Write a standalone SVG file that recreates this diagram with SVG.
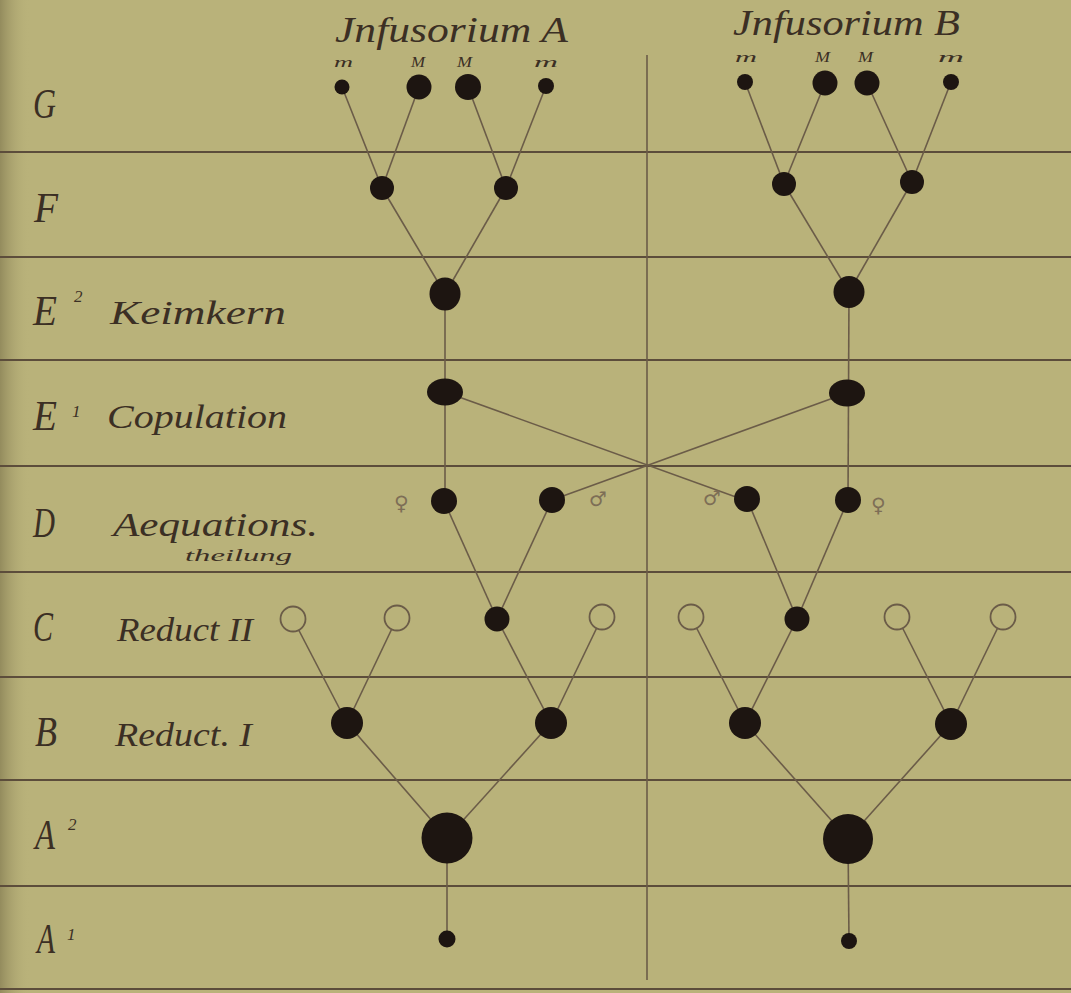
<svg xmlns="http://www.w3.org/2000/svg" width="1071" height="993" viewBox="0 0 1071 993">
<defs>
<linearGradient id="edgeShade" x1="0" y1="0" x2="1" y2="0">
<stop offset="0" stop-color="#8f875a" stop-opacity="0.9"/>
<stop offset="1" stop-color="#b9b27a" stop-opacity="0"/>
</linearGradient>
</defs>
<style>
.rule{stroke:#5c4d3b;stroke-width:2;fill:none}
.vrule{stroke:#6b5c48;stroke-width:1.6;fill:none}
.edge{stroke:#6b5c48;stroke-width:1.6;fill:none}
.n{fill:#1d1511}
.o{fill:#b9b27a;stroke:#6b5c48;stroke-width:1.8}
.lbl{font-family:"Liberation Serif","DejaVu Serif",serif;font-style:italic;fill:#3b2f24}
.big{font-size:42px}
.word{font-size:34px}
.sup{font-size:17px}
.small{font-size:15px}
.sym{font-family:"DejaVu Sans",sans-serif;font-size:20px;fill:#7d6e56}
</style>
<rect width="1071" height="993" fill="#b9b27a"/>
<rect width="30" height="993" fill="url(#edgeShade)"/>

<g id="grid">
<line class="rule" x1="0" y1="152" x2="1071" y2="152"/>
<line class="rule" x1="0" y1="257" x2="1071" y2="257"/>
<line class="rule" x1="0" y1="360" x2="1071" y2="360"/>
<line class="rule" x1="0" y1="466" x2="1071" y2="466"/>
<line class="rule" x1="0" y1="572" x2="1071" y2="572"/>
<line class="rule" x1="0" y1="677" x2="1071" y2="677"/>
<line class="rule" x1="0" y1="780" x2="1071" y2="780"/>
<line class="rule" x1="0" y1="886" x2="1071" y2="886"/>
<line class="rule" x1="0" y1="989" x2="1071" y2="989"/>
<line class="vrule" x1="647" y1="55" x2="647" y2="980"/>
</g>

<g id="row-labels">
<text class="lbl big" x="33" y="118" textLength="23" lengthAdjust="spacingAndGlyphs">G</text>
<text class="lbl big" x="34" y="222" textLength="24" lengthAdjust="spacingAndGlyphs">F</text>
<text class="lbl big" x="33" y="325" textLength="24" lengthAdjust="spacingAndGlyphs">E</text>
<text class="lbl sup" x="74" y="302">2</text>
<text class="lbl word" x="110" y="324" textLength="176" lengthAdjust="spacingAndGlyphs">Keimkern</text>
<text class="lbl big" x="33" y="430" textLength="24" lengthAdjust="spacingAndGlyphs">E</text>
<text class="lbl sup" x="72" y="417">1</text>
<text class="lbl word" x="107" y="428" textLength="180" lengthAdjust="spacingAndGlyphs">Copulation</text>
<text class="lbl big" x="33" y="537" textLength="22" lengthAdjust="spacingAndGlyphs">D</text>
<text class="lbl word" x="113" y="536" textLength="205" lengthAdjust="spacingAndGlyphs">Aequations.</text>
<text class="lbl" x="185" y="561" font-size="16" textLength="107" lengthAdjust="spacingAndGlyphs">theilung</text>
<text class="lbl big" x="33" y="641" textLength="20" lengthAdjust="spacingAndGlyphs">C</text>
<text class="lbl word" x="117" y="641" textLength="136" lengthAdjust="spacingAndGlyphs">Reduct II</text>
<text class="lbl big" x="35" y="746" textLength="22" lengthAdjust="spacingAndGlyphs">B</text>
<text class="lbl word" x="115" y="746" textLength="137" lengthAdjust="spacingAndGlyphs">Reduct. I</text>
<text class="lbl big" x="35" y="849" textLength="20" lengthAdjust="spacingAndGlyphs">A</text>
<text class="lbl sup" x="68" y="830">2</text>
<text class="lbl big" x="37" y="953" textLength="18" lengthAdjust="spacingAndGlyphs">A</text>
<text class="lbl sup" x="67" y="940">1</text>
</g>

<g id="titles">
<text class="lbl" x="335" y="42" font-size="36" textLength="233" lengthAdjust="spacingAndGlyphs">Jnfusorium  A</text>
<text class="lbl" x="733" y="35" font-size="36" textLength="227" lengthAdjust="spacingAndGlyphs">Jnfusorium B</text>
<text class="lbl small" x="334" y="67" textLength="19" lengthAdjust="spacingAndGlyphs">m</text>
<text class="lbl small" x="411" y="67" textLength="14" lengthAdjust="spacingAndGlyphs">M</text>
<text class="lbl small" x="457" y="67" textLength="15" lengthAdjust="spacingAndGlyphs">M</text>
<text class="lbl small" x="534" y="67" textLength="24" lengthAdjust="spacingAndGlyphs">m</text>
<text class="lbl small" x="735" y="62" textLength="22" lengthAdjust="spacingAndGlyphs">m</text>
<text class="lbl small" x="815" y="62" textLength="15" lengthAdjust="spacingAndGlyphs">M</text>
<text class="lbl small" x="858" y="62" textLength="15" lengthAdjust="spacingAndGlyphs">M</text>
<text class="lbl small" x="938" y="62" textLength="26" lengthAdjust="spacingAndGlyphs">m</text>
</g>

<g id="connectors">
<line class="edge" x1="342" y1="87" x2="382" y2="188"/>
<line class="edge" x1="419" y1="87" x2="382" y2="188"/>
<line class="edge" x1="468" y1="87" x2="506" y2="188"/>
<line class="edge" x1="546" y1="86" x2="506" y2="188"/>
<line class="edge" x1="745" y1="82" x2="784" y2="184"/>
<line class="edge" x1="825" y1="83" x2="784" y2="184"/>
<line class="edge" x1="867" y1="83" x2="912" y2="182"/>
<line class="edge" x1="951" y1="82" x2="912" y2="182"/>
<line class="edge" x1="382" y1="188" x2="445" y2="294"/>
<line class="edge" x1="506" y1="188" x2="445" y2="294"/>
<line class="edge" x1="784" y1="184" x2="849" y2="292"/>
<line class="edge" x1="912" y1="182" x2="849" y2="292"/>
<line class="edge" x1="445" y1="294" x2="445" y2="501"/>
<line class="edge" x1="849" y1="292" x2="848" y2="500"/>
<line class="edge" x1="445" y1="392" x2="747" y2="501"/>
<line class="edge" x1="847" y1="393" x2="552" y2="500"/>
<line class="edge" x1="444" y1="501" x2="497" y2="619"/>
<line class="edge" x1="552" y1="500" x2="497" y2="619"/>
<line class="edge" x1="747" y1="499" x2="797" y2="619"/>
<line class="edge" x1="848" y1="500" x2="797" y2="619"/>
<line class="edge" x1="293" y1="619" x2="347" y2="723"/>
<line class="edge" x1="397" y1="618" x2="347" y2="723"/>
<line class="edge" x1="497" y1="619" x2="551" y2="723"/>
<line class="edge" x1="602" y1="617" x2="551" y2="723"/>
<line class="edge" x1="691" y1="617" x2="745" y2="723"/>
<line class="edge" x1="797" y1="619" x2="745" y2="723"/>
<line class="edge" x1="897" y1="617" x2="951" y2="724"/>
<line class="edge" x1="1003" y1="617" x2="951" y2="724"/>
<line class="edge" x1="347" y1="723" x2="447" y2="838"/>
<line class="edge" x1="551" y1="723" x2="447" y2="838"/>
<line class="edge" x1="745" y1="723" x2="848" y2="839"/>
<line class="edge" x1="951" y1="724" x2="848" y2="839"/>
<line class="edge" x1="447" y1="838" x2="447" y2="939"/>
<line class="edge" x1="848" y1="839" x2="849" y2="941"/>
</g>

<g id="sex-symbols">
<text class="sym" x="394" y="510">♀</text>
<text class="sym" x="589" y="506">♂</text>
<text class="sym" x="703" y="505">♂</text>
<text class="sym" x="871" y="512">♀</text>
</g>

<g id="nodeA-G1"><circle class="n" cx="342" cy="87" r="7.5"/></g>
<g id="nodeA-G2"><circle class="n" cx="419" cy="87" r="12.5"/></g>
<g id="nodeA-G3"><circle class="n" cx="468" cy="87" r="13"/></g>
<g id="nodeA-G4"><circle class="n" cx="546" cy="86" r="8"/></g>
<g id="nodeB-G1"><circle class="n" cx="745" cy="82" r="8"/></g>
<g id="nodeB-G2"><circle class="n" cx="825" cy="83" r="12.5"/></g>
<g id="nodeB-G3"><circle class="n" cx="867" cy="83" r="12.5"/></g>
<g id="nodeB-G4"><circle class="n" cx="951" cy="82" r="8"/></g>

<g id="nodeA-F1"><circle class="n" cx="382" cy="188" r="12"/></g>
<g id="nodeA-F2"><circle class="n" cx="506" cy="188" r="12"/></g>
<g id="nodeB-F1"><circle class="n" cx="784" cy="184" r="12"/></g>
<g id="nodeB-F2"><circle class="n" cx="912" cy="182" r="12"/></g>

<g id="nodeA-E2"><ellipse class="n" cx="445" cy="294" rx="15.5" ry="16.5"/></g>
<g id="nodeB-E2"><ellipse class="n" cx="849" cy="292" rx="15.5" ry="16"/></g>

<g id="nodeA-E1"><ellipse class="n" cx="445" cy="392" rx="18" ry="13.5"/></g>
<g id="nodeB-E1"><ellipse class="n" cx="847" cy="393" rx="18" ry="13.5"/></g>

<g id="nodeA-D-female"><circle class="n" cx="444" cy="501" r="13"/></g>
<g id="nodeA-D-male"><circle class="n" cx="552" cy="500" r="13"/></g>
<g id="nodeB-D-male"><circle class="n" cx="747" cy="499" r="13"/></g>
<g id="nodeB-D-female"><circle class="n" cx="848" cy="500" r="13"/></g>

<g id="nodeA-C1"><circle class="o" cx="293" cy="619" r="12.5"/></g>
<g id="nodeA-C2"><circle class="o" cx="397" cy="618" r="12.5"/></g>
<g id="nodeA-C3"><circle class="n" cx="497" cy="619" r="12.5"/></g>
<g id="nodeA-C4"><circle class="o" cx="602" cy="617" r="12.5"/></g>
<g id="nodeB-C1"><circle class="o" cx="691" cy="617" r="12.5"/></g>
<g id="nodeB-C2"><circle class="n" cx="797" cy="619" r="12.5"/></g>
<g id="nodeB-C3"><circle class="o" cx="897" cy="617" r="12.5"/></g>
<g id="nodeB-C4"><circle class="o" cx="1003" cy="617" r="12.5"/></g>

<g id="nodeA-B1"><circle class="n" cx="347" cy="723" r="16"/></g>
<g id="nodeA-B2"><circle class="n" cx="551" cy="723" r="16"/></g>
<g id="nodeB-B1"><circle class="n" cx="745" cy="723" r="16"/></g>
<g id="nodeB-B2"><circle class="n" cx="951" cy="724" r="16"/></g>

<g id="nodeA-A2"><circle class="n" cx="447" cy="838" r="25.5"/></g>
<g id="nodeB-A2"><circle class="n" cx="848" cy="839" r="25"/></g>

<g id="nodeA-A1"><circle class="n" cx="447" cy="939" r="8.5"/></g>
<g id="nodeB-A1"><circle class="n" cx="849" cy="941" r="8"/></g>
</svg>
